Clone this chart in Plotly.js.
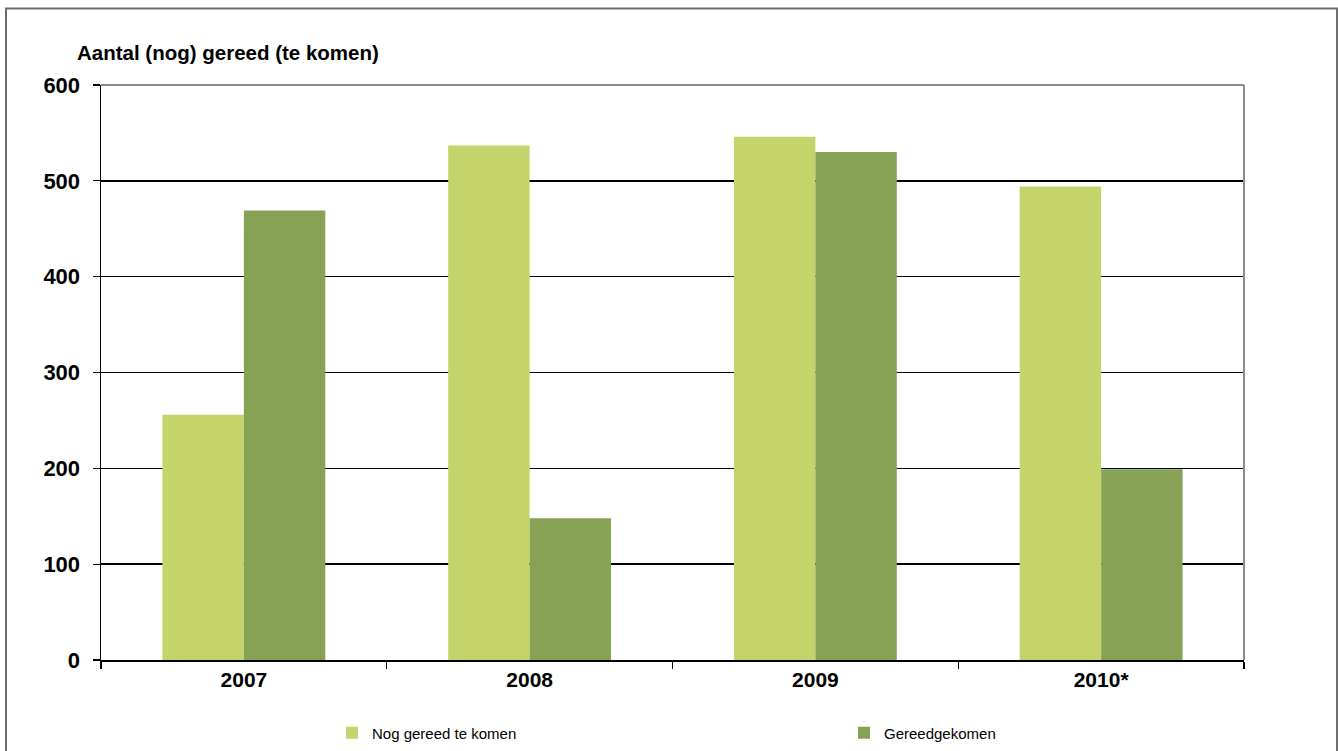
<!DOCTYPE html>
<html>
<head>
<meta charset="utf-8">
<script src="https://cdn.plot.ly/plotly-3.0.1.min.js"></script>
<style>
  html, body { margin: 0; padding: 0; background: #fff; overflow: hidden; }
  #chart { width: 1338px; height: 751px; }
</style>
</head>
<body>
<div id="chart"></div>
<script>
// Data
var categories = ['2007', '2008', '2009', '2010*'];
var nogGereed = [256, 537, 546, 494];
var gereedgekomen = [469, 148, 530, 199];
var seriesNames = ['Nog gereed te komen', 'Gereedgekomen'];
var yTicks = [0, 100, 200, 300, 400, 500, 600];
var yTitle = 'Aantal (nog) gereed (te komen)';

var FONT = '"Liberation Sans", Arial, sans-serif';

var traces = [
  {
    type: 'bar', name: seriesNames[0], x: categories, y: nogGereed, legend: 'legend',
    marker: { color: '#C4D46A', line: { width: 0 } }, hoverinfo: 'x+y'
  },
  {
    type: 'bar', name: seriesNames[1], x: categories, y: gereedgekomen, legend: 'legend2',
    marker: { color: '#87A254', line: { width: 0 } }, hoverinfo: 'x+y'
  }
];

var W = 1338, H = 751;
var L = 101, R = 94, T = 85, B = 91;
var pw = W - L - R, ph = H - T - B;
function px(x) { return (x - L) / pw; }
function py(y) { return (H - B - y) / ph; }

function legendAt(xPix) {
  return {
    orientation: 'h', x: px(xPix), xanchor: 'left', y: py(733), yanchor: 'middle',
    font: { family: FONT, size: 15, color: '#000' },
    bgcolor: 'rgba(0,0,0,0)', borderwidth: 0
  };
}

var layout = {
  width: W, height: H,
  margin: { l: L, r: R, t: T, b: B, pad: 0, autoexpand: false },
  paper_bgcolor: '#ffffff', plot_bgcolor: '#ffffff',
  font: { family: FONT, color: '#000' },
  barmode: 'group', bargap: 0.43, bargroupgap: 0,
  showlegend: true,
  legend: legendAt(332),
  legend2: legendAt(844),
  xaxis: {
    type: 'category', showgrid: false, zeroline: false,
    showline: true, linecolor: '#000', linewidth: 1.5,
    ticks: 'outside', tickson: 'boundaries', ticklen: 7, tickcolor: '#000', tickwidth: 1.3,
    tickfont: { family: FONT, size: 21, color: '#000', weight: 'bold' },
    fixedrange: true
  },
  yaxis: {
    range: [0, 600], tickvals: yTicks, ticktext: yTicks.map(String),
    showgrid: true, gridcolor: '#000', gridwidth: 1.5,
    zeroline: false, showline: true, linecolor: '#000', linewidth: 1.5,
    ticks: 'outside', ticklen: 7, tickcolor: '#000', tickwidth: 1.3,
    ticklabelstandoff: 8,
    tickfont: { family: FONT, size: 22, color: '#000', weight: 'bold' },
    fixedrange: true
  },
  annotations: [
    {
      text: yTitle, xref: 'paper', yref: 'paper', x: px(75), y: py(52),
      xanchor: 'left', yanchor: 'middle', showarrow: false,
      font: { family: FONT, size: 20.5, color: '#000', weight: 'bold' }
    }
  ],
  shapes: [
    { type: 'line', xref: 'paper', yref: 'paper', x0: 0, x1: 1, y0: 1, y1: 1,
      line: { color: '#8c8c8c', width: 2 } },
    { type: 'line', xref: 'paper', yref: 'paper', x0: 1, x1: 1, y0: 0, y1: 1,
      line: { color: '#8c8c8c', width: 2 } },
    { type: 'rect', xref: 'paper', yref: 'paper', x0: px(6), x1: px(1337), y0: py(754), y1: py(8.5),
      line: { color: '#6e6e6e', width: 2 }, fillcolor: 'rgba(0,0,0,0)' }
  ]
};

Plotly.newPlot('chart', traces, layout, { displayModeBar: false, staticPlot: true });
</script>
</body>
</html>
